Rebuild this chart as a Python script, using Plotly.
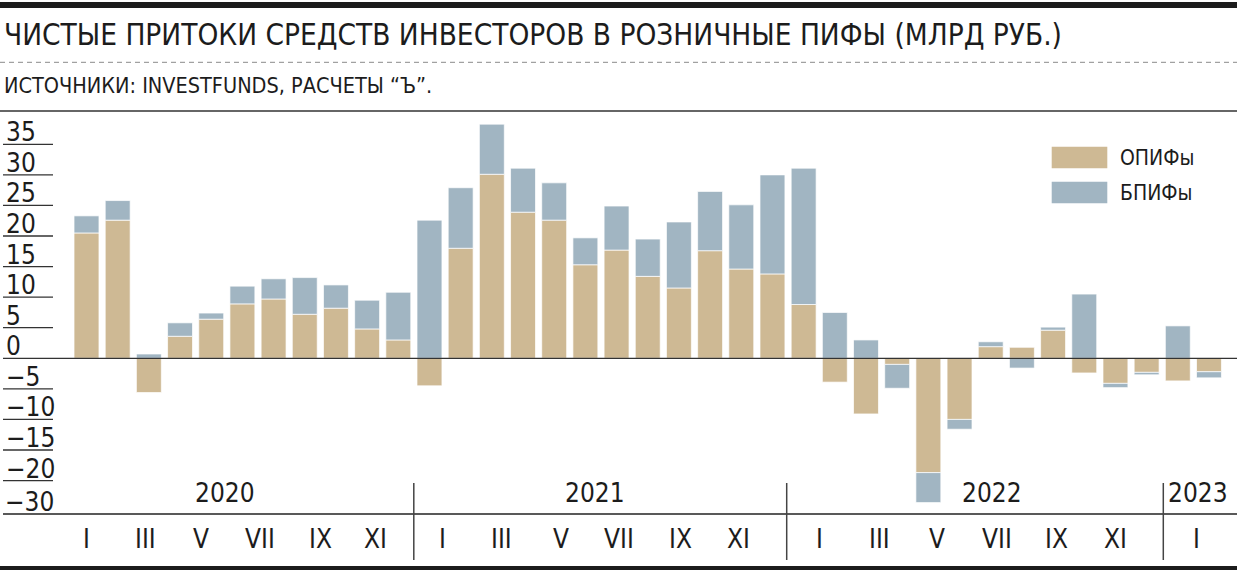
import plotly.graph_objects as go

# ---------------- data ----------------
months = [f"{y}-{m:02d}" for y in (2020, 2021, 2022) for m in range(1, 13)] + ["2023-01"]
opif = [20.5, 22.6, -5.6, 3.6, 6.4, 8.9, 9.7, 7.2, 8.2, 4.8, 3.0, -4.5,
        18.0, 30.1, 23.9, 22.6, 15.3, 17.7, 13.4, 11.5, 17.6, 14.6, 13.8, 8.8,
        -3.9, -9.1, -1.0, -18.7, -10.0, 1.9, 1.8, 4.6, -2.4, -4.1, -2.3, -3.7,
        -2.2]
bpif = [2.8, 3.2, 0.7, 2.2, 1.0, 2.9, 3.3, 6.0, 3.8, 4.7, 7.8, 22.6,
        9.9, 8.2, 7.2, 6.1, 4.4, 7.2, 6.1, 10.8, 9.7, 10.5, 16.2, 22.3,
        7.5, 3.0, -3.9, -4.9, -1.6, 0.8, -1.6, 0.5, 10.5, -0.7, -0.4, 5.3,
        -1.0]
series_names = ["ОПИФы", "БПИФы"]
y_tick_vals = [35, 30, 25, 20, 15, 10, 5, 0, -5, -10, -15, -20]
y_tick_text = ["35", "30", "25", "20", "15", "10", "5", "0",
               "−5", "−10", "−15", "−20"]
y_bottom_text = "−30"
month_tick_text = ["I", "III", "V", "VII", "IX", "XI"] * 3 + ["I"]
year_text = ["2020", "2021", "2022", "2023"]

TITLE = "ЧИСТЫЕ ПРИТОКИ СРЕДСТВ ИНВЕСТОРОВ В РОЗНИЧНЫЕ ПИФЫ (МЛРД РУБ.)"
SUBTITLE = "ИСТОЧНИКИ: INVESTFUNDS, РАСЧЕТЫ “Ъ”."

# ---------------- layout constants ----------------
W, H = 1237, 570
ML, MR, MT, MB = 3, 0, 111, 56
PW, PH = W - ML - MR, H - MT - MB
X0_PX, STEP_PX = 86.5, 31.18            # first bar centre / bar pitch (px)
X_RANGE = [(ML - X0_PX) / STEP_PX, (W - MR - X0_PX) / STEP_PX]
Y_RANGE = [-25.47, 40.45]

TAN = "#CEB994"
BLUE = "#A1B5C2"
INK = "#1c1c1c"
FONT = "Liberation Sans Narrow, DejaVu Sans Condensed, Arial Narrow, sans-serif"

def pxx(x):   # pixel x -> paper
    return (x - ML) / PW

def pxy(y):   # pixel y -> paper
    return (H - MB - y) / PH

def dx(x):    # pixel x -> data x
    return (x - X0_PX) / STEP_PX

idx = list(range(len(months)))

fig = go.Figure()
fig.add_trace(go.Bar(x=idx, y=opif, name=series_names[0], marker_color=TAN,
                     marker_line=dict(color="rgba(255,255,255,0.7)", width=1),
                     hovertext=months, showlegend=False))
fig.add_trace(go.Bar(x=idx, y=bpif, name=series_names[1], marker_color=BLUE,
                     marker_line=dict(color="rgba(255,255,255,0.7)", width=1),
                     hovertext=months, showlegend=False))

shapes = []
annotations = []

# top thick bar
shapes.append(dict(type="rect", xref="paper", yref="paper",
                   x0=pxx(0), x1=pxx(W), y0=pxy(8), y1=pxy(2),
                   fillcolor=INK, line_width=0, layer="above"))
# dashed separator under title
shapes.append(dict(type="line", xref="paper", yref="paper",
                   x0=pxx(0), x1=pxx(W), y0=pxy(62.3), y1=pxy(62.3),
                   line=dict(color="#8a8a8a", width=1, dash="5px,4px")))
# top frame line of plot
shapes.append(dict(type="line", xref="paper", yref="paper",
                   x0=pxx(0), x1=pxx(W), y0=1, y1=1,
                   line=dict(color="#333333", width=1.5)))
# zero line
shapes.append(dict(type="line", xref="paper", yref="y",
                   x0=pxx(3), x1=pxx(W), y0=0, y1=0,
                   line=dict(color="#333333", width=1.3), layer="above"))
# bottom axis line
shapes.append(dict(type="line", xref="paper", yref="paper",
                   x0=pxx(3), x1=pxx(W), y0=0, y1=0,
                   line=dict(color="#222222", width=1.6), layer="above"))
# bottom thick line
shapes.append(dict(type="rect", xref="paper", yref="paper",
                   x0=pxx(0), x1=pxx(W), y0=pxy(570), y1=pxy(566),
                   fillcolor=INK, line_width=0))

TICK_FONT = dict(family=FONT, size=26, color=INK)

# y tick short lines + labels
for v, t in zip(y_tick_vals, y_tick_text):
    if v != 0:
        shapes.append(dict(type="line", xref="paper", yref="y",
                           x0=pxx(3), x1=pxx(53), y0=v, y1=v,
                           line=dict(color="#333333", width=1.3)))
    annotations.append(dict(text=t, xref="paper", yref="y", x=pxx(4), y=v,
                            xanchor="left", yanchor="bottom", showarrow=False,
                            yshift=-5, font=TICK_FONT))
annotations.append(dict(text=y_bottom_text, xref="paper", yref="paper", x=pxx(3), y=0,
                        xanchor="left", yanchor="bottom", showarrow=False,
                        yshift=-5, font=TICK_FONT))

# year separators
for xs in (413.8, 786.7, 1163.3):
    shapes.append(dict(type="line", xref="paper", yref="paper",
                       x0=pxx(xs), x1=pxx(xs), y0=pxy(483), y1=pxy(560),
                       line=dict(color="#444444", width=1.5)))

# month labels (pixel positions as drawn in the original)
month_px = [86.7, 145.7, 201, 260, 320, 375,
            442.7, 501.7, 561, 619.3, 680, 738.3,
            819.3, 879, 937, 996.7, 1056.7, 1115,
            1196.7]
for xp, t in zip(month_px, month_tick_text):
    annotations.append(dict(text=t, xref="x", yref="paper", x=dx(xp), y=pxy(539),
                            xanchor="center", yanchor="middle", showarrow=False,
                            font=TICK_FONT))
year_px = [224.7, 595, 992.3, 1198.3]
for xp, t in zip(year_px, year_text):
    annotations.append(dict(text=t, xref="x", yref="paper", x=dx(xp), y=pxy(493),
                            xanchor="center", yanchor="middle", showarrow=False,
                            font=TICK_FONT))

# legend (custom)
for i, (name, col) in enumerate(zip(series_names, [TAN, BLUE])):
    y0 = 146.7 + i * 35
    shapes.append(dict(type="rect", xref="paper", yref="paper",
                       x0=pxx(1051.7), x1=pxx(1107.3), y0=pxy(y0 + 21.6), y1=pxy(y0),
                       fillcolor=col, line_width=0))
    annotations.append(dict(text=name, xref="paper", yref="paper",
                            x=pxx(1118), y=pxy(y0 + 11), xanchor="left",
                            yanchor="middle", showarrow=False,
                            font=dict(family=FONT, size=21, color=INK)))

# title and subtitle
annotations.append(dict(text=TITLE, xref="paper", yref="paper", x=pxx(2), y=pxy(35),
                        xanchor="left", yanchor="middle", showarrow=False,
                        font=dict(family=FONT, size=29.5, color=INK)))
annotations.append(dict(text=SUBTITLE, xref="paper", yref="paper", x=pxx(2), y=pxy(86),
                        xanchor="left", yanchor="middle", showarrow=False,
                        font=dict(family=FONT, size=21.5, color=INK)))

fig.update_layout(
    width=W, height=H, margin=dict(l=ML, r=MR, t=MT, b=MB, pad=0),
    paper_bgcolor="white", plot_bgcolor="white",
    barmode="relative", bargap=0.2,
    xaxis=dict(range=X_RANGE, showgrid=False, zeroline=False, showticklabels=False,
               ticks="", fixedrange=True),
    yaxis=dict(range=Y_RANGE, showgrid=False, zeroline=False, showticklabels=False,
               ticks="", fixedrange=True),
    shapes=shapes, annotations=annotations, showlegend=False,
    font=dict(family=FONT, color=INK),
)

fig.write_html("out.html")
